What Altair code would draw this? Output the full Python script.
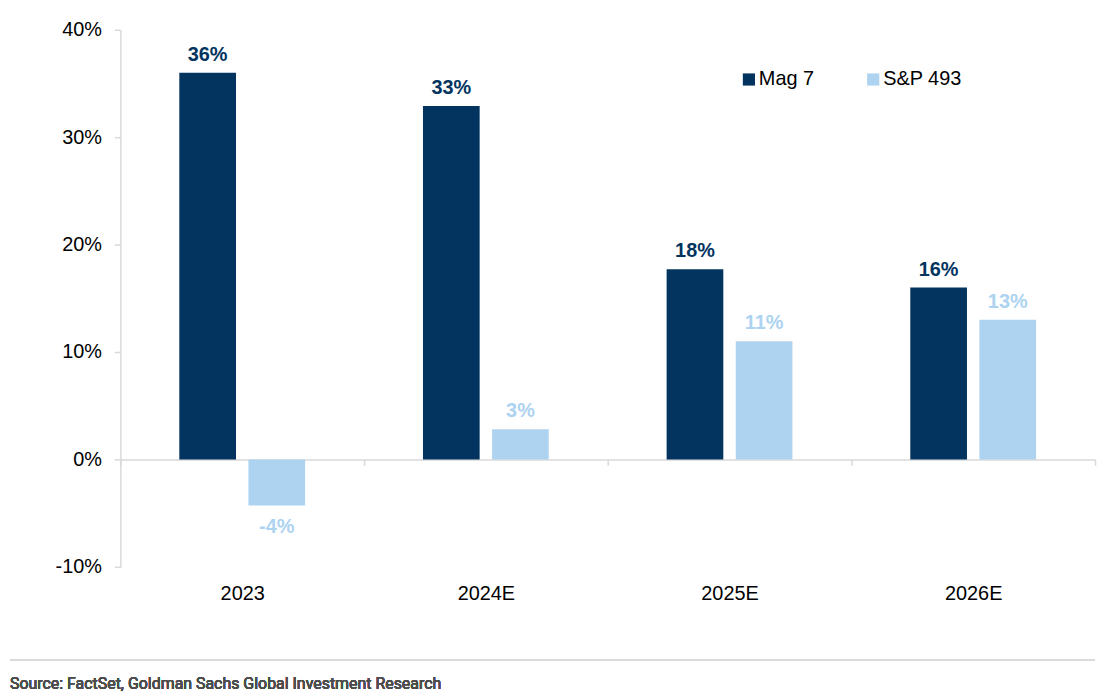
import altair as alt
import pandas as pd

categories = ["2023", "2024E", "2025E", "2026E"]
series = ["Mag 7", "S&P 493"]
mag7_values = [36.0, 32.9, 17.7, 16.0]
sp493_values = [-4.3, 2.8, 11.0, 13.0]
mag7_labels = ["36%", "33%", "18%", "16%"]
sp493_labels = ["-4%", "3%", "11%", "13%"]
y_ticks = [-10, 0, 10, 20, 30, 40]
colors = ["#02345F", "#ADD3F0"]
source_text = "Source: FactSet, Goldman Sachs Global Investment Research"

rows = []
for i, c in enumerate(categories):
    rows.append({"cat": c, "series": series[0], "value": mag7_values[i], "label": mag7_labels[i]})
    rows.append({"cat": c, "series": series[1], "value": sp493_values[i], "label": sp493_labels[i]})
df = pd.DataFrame(rows)

FONT = "Liberation Sans"

x_enc = alt.X(
    "cat:N",
    sort=categories,
    title=None,
    scale=alt.Scale(paddingInner=0, paddingOuter=0),
    axis=alt.Axis(
        orient="bottom",
        offset=-108,
        domainColor="#D9D9D9",
        domainWidth=1.5,
        tickColor="#D9D9D9",
        tickWidth=1.5,
        tickSize=6,
        tickBand="extent",
        labelAngle=0,
        labelFont=FONT,
        labelFontSize=20,
        labelColor="#000000",
        labelPadding=119,
        grid=False,
    ),
)
xoff_enc = alt.XOffset(
    "series:N",
    sort=series,
    scale=alt.Scale(paddingInner=0.187, paddingOuter=0.856),
)
y_enc = alt.Y(
    "value:Q",
    title=None,
    scale=alt.Scale(domain=[-10, 40], nice=False, zero=False),
    axis=alt.Axis(
        values=y_ticks,
        labelExpr="datum.value + '%'",
        domainColor="#D9D9D9",
        domainWidth=1.5,
        tickColor="#D9D9D9",
        tickWidth=1.5,
        tickSize=6,
        labelFont=FONT,
        labelFontSize=20,
        labelColor="#000000",
        labelPadding=13,
        grid=False,
    ),
)
color_enc = alt.Color(
    "series:N",
    sort=series,
    scale=alt.Scale(domain=series, range=colors),
    legend=alt.Legend(
        title=None,
        orient="none",
        legendX=622,
        legendY=40,
        direction="horizontal",
        symbolType="square",
        symbolSize=150,
        symbolStrokeWidth=0,
        labelFont=FONT,
        labelFontSize=20,
        labelColor="#000000",
        labelOffset=0,
        columnPadding=49,
    ),
)

base = alt.Chart(df)

bars = base.mark_bar(size=57).encode(x=x_enc, xOffset=xoff_enc, y=y_enc, color=color_enc)

pos_labels = base.transform_filter("datum.value >= 0").mark_text(
    font=FONT, fontSize=20, fontWeight="bold", baseline="alphabetic", align="center", dy=-12
).encode(
    x=alt.X("cat:N", sort=categories),
    xOffset=alt.XOffset("series:N", sort=series),
    y="value:Q",
    text="label:N",
    color=alt.Color("series:N", sort=series, legend=None),
)

neg_labels = base.transform_filter("datum.value < 0").mark_text(
    font=FONT, fontSize=20, fontWeight="bold", baseline="alphabetic", align="center", dy=28
).encode(
    x=alt.X("cat:N", sort=categories),
    xOffset=alt.XOffset("series:N", sort=series),
    y="value:Q",
    text="label:N",
    color=alt.Color("series:N", sort=series, legend=None),
)

sep_rule = base.mark_rule(color="#D9D9D9", strokeWidth=1.5).encode(
    x=alt.value(-111), x2=alt.value(980), y=alt.value(634)
)

source = base.mark_text(
    font="Roboto", fontSize=16, fontWeight="normal", color="#4D4D4D", align="left", baseline="alphabetic"
).encode(x=alt.value(-111), y=alt.value(663), text=alt.value(source_text))

chart = (
    alt.layer(bars, pos_labels, neg_labels, sep_rule, source)
    .properties(
        width=980,
        height=540,
        padding={"left": 113, "top": 20, "right": 5, "bottom": 124},
        autosize=alt.AutoSizeParams(type="none"),
        background="#FFFFFF",
    )
    .configure_view(stroke=None)
)

chart.save("out.html", embed_options={"renderer": "svg", "actions": False})
